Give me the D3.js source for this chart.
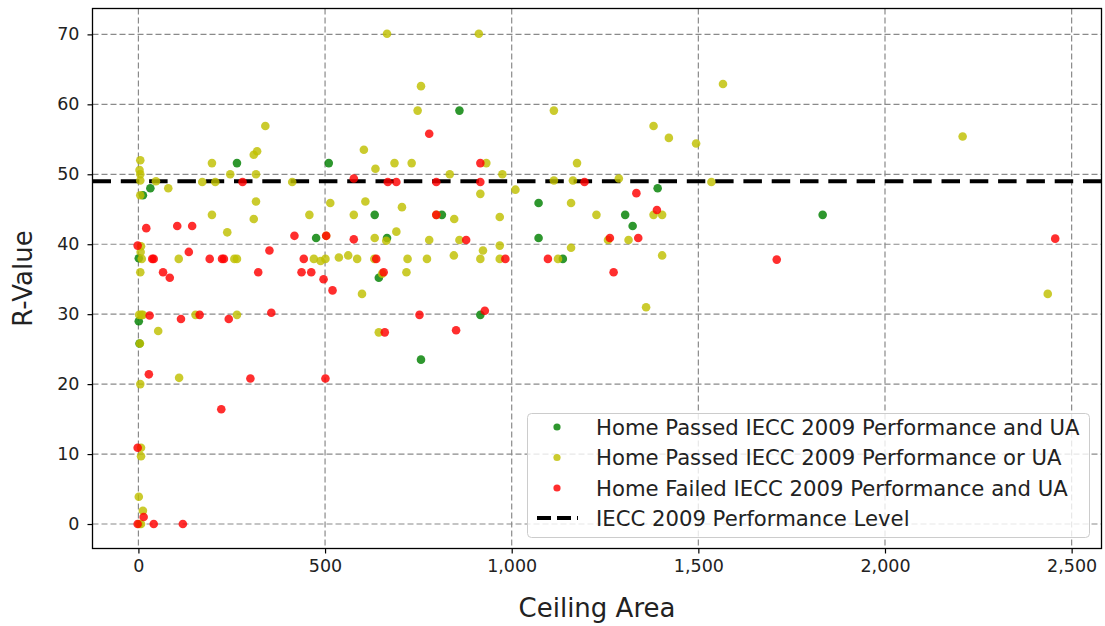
<!DOCTYPE html>
<html>
<head>
<meta charset="utf-8">
<script src="https://cdn.jsdelivr.net/npm/d3@7"></script>
<style>
  html, body { margin: 0; padding: 0; background: #fff; }
  svg { display: block; font-family: "DejaVu Sans", sans-serif; }
</style>
</head>
<body>
<svg id="chart" width="1105" height="626"></svg>
<script>
// ---- data ----
const passedBoth = [
  [1,38],[12,47],[32,48],[1,29],[3,25.8],[264,51.6],[510,51.6],[476,40.9],[633,44.2],[666,40.9],
  [644,35.2],[860,59.1],[813,44.2],[1072,45.9],[1072,40.9],[1137,37.9],[1304,44.2],[1324,42.6],
  [1391,48],[916,29.9],[757,23.5],[1833,44.2]
];
const passedEither = [
  [5,52],[3,50.6],[5,50],[5,49.1],[5,47],[7,39.7],[6,38.9],[9,37.9],[5,36],[2,29.9],[8,29.9],[12,29.9],
  [4,25.8],[5,20],[7,10.9],[7,9.7],[1,3.9],[12,1.9],[7,0],[2,0],
  [47,49],[80,48],[53,27.6],[108,37.9],[109,20.9],[153,29.9],[171,48.9],[197,51.6],[206,48.9],[197,44.2],
  [238,41.7],[246,50],[257,37.9],[264,37.9],[264,29.9],[309,52.8],[318,53.3],[315,50],[315,46.1],[309,43.6],
  [340,56.9],[412,48.9],[458,44.2],[470,37.9],[488,37.6],[501,37.9],[503,41.2],[514,45.9],[537,38.1],
  [562,38.4],[586,37.9],[577,44.2],[604,53.5],[608,46.1],[599,32.9],[633,40.9],[632,37.9],[635,50.8],
  [644,27.4],[653,35.8],[664,40.5],[666,70.1],[686,51.6],[691,41.8],[706,45.3],[718,36],[721,37.9],
  [732,51.6],[748,59.1],[757,62.6],[773,37.9],[779,40.6],[798,44.2],[834,50],[845,38.4],[846,43.6],
  [860,40.6],[912,70.1],[916,47.2],[916,37.9],[923,39.1],[932,51.6],[968,43.9],[968,39.8],[968,37.9],
  [975,50],[1010,47.8],[1113,59.1],[1113,49.1],[1124,37.9],[1159,45.9],[1159,39.5],[1164,49.1],
  [1175,51.6],[1227,44.2],[1258,40.6],[1287,49.4],[1313,40.6],[1360,31],[1380,56.9],[1380,44.2],
  [1403,44.2],[1403,38.4],[1421,55.2],[1494,54.4],[1535,48.9],[1566,62.9],[2208,55.4],[2436,32.9]
];
const failedBoth = [
  [-2,39.8],[37,37.9],[41,37.9],[21,42.3],[104,42.6],[144,42.6],[135,38.9],[66,36],[84,35.2],[30,29.8],
  [114,29.3],[164,29.9],[28,21.4],[-2,10.9],[14,1],[-2,0],[41,0],[119,0],[191,37.9],[224,37.9],
  [229,37.9],[242,29.3],[222,16.4],[279,48.9],[300,20.8],[321,36],[351,39.1],[356,30.2],[418,41.2],
  [437,36],[443,37.9],[463,36],[496,35],[501,20.8],[503,41.2],[520,33.4],[577,49.4],[577,40.7],
  [637,37.9],[657,36],[660,27.4],[668,48.9],[691,48.9],[779,55.8],[753,29.9],[798,48.9],[798,44.2],
  [851,27.7],[878,40.6],[916,51.6],[916,48.9],[928,30.5],[983,37.9],[1097,37.9],[1195,48.9],
  [1263,40.9],[1273,36],[1334,47.3],[1339,40.9],[1389,44.9],[1710,37.8],[2456,40.8]
];
const performanceLevel = 49;
const xTicks = [0, 500, 1000, 1500, 2000, 2500];
const yTicks = [0, 10, 20, 30, 40, 50, 60, 70];
const seriesNames = [
  "Home Passed IECC 2009 Performance and UA",
  "Home Passed IECC 2009 Performance or UA",
  "Home Failed IECC 2009 Performance and UA"
];
const seriesColors = ["#008000", "#bfbf00", "#ff0000"];
const lineName = "IECC 2009 Performance Level";

// ---- layout ----
const L = 92.5, R = 1101.5, T = 8.5, B = 548.5;
const svg = d3.select("#chart");
const x = d3.scaleLinear().domain([-123, 2580]).range([L, R]);
const y = d3.scaleLinear().domain([-3.5, 73.7]).range([B, T]);

// grid
const grid = svg.append("g");
grid.selectAll("line.gx").data(xTicks).join("line")
  .attr("x1", d => x(d)).attr("x2", d => x(d)).attr("y1", T).attr("y2", B)
  .attr("stroke", "#8a8a8a").attr("stroke-width", 1.2).attr("stroke-dasharray", "6,3");
grid.selectAll("line.gy").data(yTicks).join("line")
  .attr("y1", d => y(d)).attr("y2", d => y(d)).attr("x1", L).attr("x2", R)
  .attr("stroke", "#8a8a8a").attr("stroke-width", 1.2).attr("stroke-dasharray", "6,3");

// performance line
svg.append("line")
  .attr("x1", L).attr("x2", R).attr("y1", y(performanceLevel)).attr("y2", y(performanceLevel))
  .attr("stroke", "#000").attr("stroke-width", 4).attr("stroke-dasharray", "18.5,9.8");

// scatter
const allSeries = [passedBoth, passedEither, failedBoth];
allSeries.forEach((s, i) => {
  svg.append("g").selectAll("circle").data(s).join("circle")
    .attr("cx", d => x(d[0])).attr("cy", d => y(d[1])).attr("r", 4.3)
    .attr("fill", seriesColors[i]).attr("fill-opacity", 0.82);
});

// axes
const xAxis = svg.append("g").attr("transform", `translate(0,${B})`)
  .call(d3.axisBottom(x).tickValues(xTicks).tickSize(5).tickPadding(6)
    .tickFormat(d3.format(",")));
const yAxis = svg.append("g").attr("transform", `translate(${L},0)`)
  .call(d3.axisLeft(y).tickValues(yTicks).tickSize(5).tickPadding(8));
[xAxis, yAxis].forEach(a => {
  a.select(".domain").remove();
  a.selectAll("text").attr("font-size", 17.5).attr("fill", "#222").attr("font-family", "DejaVu Sans");
  a.selectAll("line").attr("stroke", "#000").attr("stroke-width", 1.2);
});

// frame
svg.append("rect").attr("x", L).attr("y", T).attr("width", R - L).attr("height", B - T)
  .attr("fill", "none").attr("stroke", "#000").attr("stroke-width", 1.3);

// labels
svg.append("text").attr("x", (L + R) / 2).attr("y", 617).attr("text-anchor", "middle")
  .attr("font-size", 26).attr("fill", "#222").text("Ceiling Area");
svg.append("text").attr("transform", `translate(32,${(T + B) / 2}) rotate(-90)`)
  .attr("text-anchor", "middle").attr("font-size", 26).attr("fill", "#222").text("R-Value");

// legend
const lg = svg.append("g");
lg.append("rect").attr("x", 527.5).attr("y", 413.5).attr("width", 562).attr("height", 124)
  .attr("rx", 4).attr("fill", "#fff").attr("fill-opacity", 0.8)
  .attr("stroke", "#cccccc").attr("stroke-width", 1);
const rowY = [427, 457.5, 488, 518];
seriesNames.forEach((n, i) => {
  lg.append("circle").attr("cx", 557).attr("cy", rowY[i]).attr("r", 3.6)
    .attr("fill", seriesColors[i]).attr("fill-opacity", 0.82);
  lg.append("text").attr("x", 596).attr("y", rowY[i]).attr("dy", "0.36em")
    .attr("font-size", 21.2).attr("fill", "#222").text(n);
});
lg.append("line").attr("x1", 537).attr("x2", 578).attr("y1", rowY[3]).attr("y2", rowY[3])
  .attr("stroke", "#000").attr("stroke-width", 4).attr("stroke-dasharray", "14,6");
lg.append("text").attr("x", 596).attr("y", rowY[3]).attr("dy", "0.36em")
  .attr("font-size", 21.2).attr("fill", "#222").text(lineName);
</script>
</body>
</html>
